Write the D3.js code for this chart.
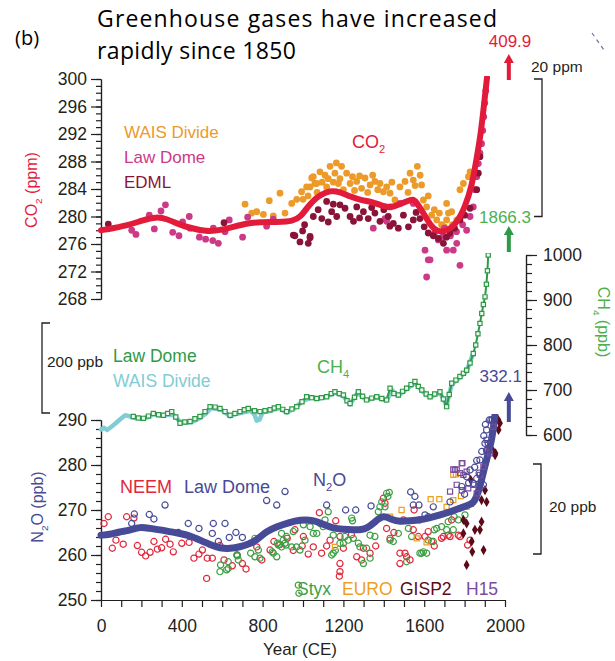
<!DOCTYPE html>
<html>
<head>
<meta charset="utf-8">
<script src="https://cdn.jsdelivr.net/npm/d3@7"></script>
<style>
  body { margin: 0; background: #fff; }
  svg { display: block; }
</style>
</head>
<body>
<svg id="chart"></svg>
<script>
'use strict';

// all series are [year CE, value]
const co2Smooth = [[0,278.0],[60,278.3],[144,278.8],[200,279.4],[275,280.0],[330,279.6],[375,279.0],[430,278.4],[523,277.8],[590,278.0],[655,278.5],[720,279.0],[787,279.2],[870,279.2],[952,279.3],[990,280.0],[1018,281.2],[1050,282.3],[1084,283.1],[1134,283.8],[1183,283.6],[1233,282.9],[1282,282.4],[1332,282.2],[1381,281.7],[1431,281.2],[1472,281.7],[1513,282.2],[1546,282.6],[1563,282.0],[1596,280.5],[1629,278.8],[1662,277.8],[1711,277.8],[1761,279.0],[1802,281.4],[1835,284.3],[1860,288.5],[1880,292.0],[1895,296.0],[1911,300.2]];
const co2Wais = [[713,281.8],[746,280.5],[771,280.7],[804,280.3],[833,282.3],[853,280.1],[886,283.4],[911,280.5],[944,281.9],[969,282.5],[993,283.6],[1000,282.5],[1018,284.3],[1025,283.0],[1035,284.3],[1043,285.6],[1051,285.8],[1059,284.8],[1068,284.8],[1070,283.5],[1084,286.5],[1095,285.0],[1109,286.0],[1117,284.3],[1125,285.5],[1134,287.3],[1150,285.0],[1158,286.3],[1165,287.8],[1175,284.8],[1183,285.5],[1191,287.3],[1200,283.9],[1216,286.3],[1233,284.8],[1245,285.8],[1255,283.8],[1266,285.1],[1280,285.9],[1290,284.1],[1307,285.6],[1320,283.5],[1332,284.6],[1345,286.0],[1356,285.1],[1370,283.9],[1381,284.8],[1398,283.6],[1414,284.3],[1431,283.4],[1440,285.0],[1455,282.4],[1480,284.3],[1505,285.1],[1520,283.5],[1530,286.3],[1546,285.3],[1555,284.5],[1566,287.3],[1580,286.0],[1587,284.6],[1596,282.4],[1612,281.4],[1620,283.0],[1637,280.2],[1650,281.0],[1662,279.5],[1675,280.5],[1686,278.8],[1700,278.5],[1711,279.5],[1711,281.9],[1720,280.5],[1736,280.7],[1740,278.8],[1761,279.5],[1777,283.9],[1794,284.8],[1819,285.8],[1827,286.5]];
const co2LawDome = [[152,278.0],[173,277.4],[239,280.2],[264,278.2],[297,280.8],[319,281.7],[355,277.7],[386,277.2],[404,279.2],[437,280.0],[441,278.3],[487,277.0],[518,276.7],[553,276.5],[556,278.3],[581,276.1],[614,277.8],[635,279.5],[701,277.0],[726,279.9],[820,278.6],[853,279.6],[1348,278.3],[1406,279.7],[1414,279.3],[1431,281.4],[1480,281.9],[1546,281.9],[1604,275.1],[1612,271.2],[1620,273.7],[1629,273.7],[1650,277.5],[1670,276.6],[1690,277.0],[1700,278.3],[1711,275.1],[1730,277.2],[1744,275.1],[1760,277.8],[1761,276.1],[1777,272.9],[1790,278.8],[1810,278.0],[1827,280.0],[1843,281.4],[1851,283.9],[1860,285.8],[1868,287.7],[1876,289.2],[1884,290.6],[1890,292.5],[1895,294.5],[1900,296.5],[1905,298.3]];
const co2Edml = [[36,278.9],[609,279.1],[952,277.3],[960,277.2],[985,276.3],[998,277.9],[1008,278.8],[1026,276.1],[1035,276.9],[1035,277.1],[1051,280.0],[1075,281.0],[1093,279.7],[1117,282.2],[1125,279.2],[1142,280.7],[1150,281.8],[1167,280.0],[1183,281.7],[1208,281.2],[1233,280.0],[1250,279.3],[1266,281.4],[1280,279.8],[1299,280.7],[1323,279.7],[1340,281.3],[1356,280.5],[1381,279.3],[1400,281.0],[1422,280.0],[1430,278.6],[1447,279.0],[1472,278.3],[1497,280.2],[1522,278.5],[1546,279.5],[1560,280.6],[1579,279.7],[1600,278.5],[1620,277.6],[1645,277.2],[1670,276.8],[1695,276.1],[1710,277.0],[1728,277.6],[1750,278.3],[1777,279.5],[1800,280.2],[1827,281.2],[1860,283.9],[1868,286.3],[1876,288.7]];

const ch4LawDome = [[160,641],[185,638],[210,637],[235,642],[259,648],[285,645],[309,644],[330,648],[350,652],[370,640],[391,626],[415,629],[441,630],[465,636],[490,641],[515,652],[540,663],[565,662],[589,659],[614,652],[639,644],[663,648],[688,652],[710,656],[729,659],[760,654],[787,652],[812,654],[837,656],[858,660],[878,663],[900,657],[919,652],[945,658],[969,663],[995,674],[1018,685],[1043,683],[1068,681],[1092,683],[1117,685],[1140,692],[1158,696],[1180,692],[1200,689],[1218,676],[1233,670],[1255,684],[1274,696],[1295,686],[1315,678],[1340,682],[1365,685],[1390,681],[1414,678],[1431,704],[1450,692],[1472,689],[1493,697],[1513,704],[1535,712],[1554,719],[1571,708],[1588,700],[1610,691],[1629,685],[1652,691],[1678,696],[1695,680],[1711,663],[1724,690],[1736,715],[1757,722],[1777,730],[1794,737],[1810,744],[1827,760],[1843,781],[1855,800],[1866,825],[1876,848],[1885,870],[1893,890],[1901,907],[1908,935],[1913,965],[1917,1000]];
const ch4Wais = [[0,612],[15,616],[30,611],[50,618],[70,625],[95,635],[120,644],[140,642],[165,638],[200,636],[235,640],[260,646],[300,643],[330,645],[360,644],[391,630],[420,627],[450,629],[490,638],[520,648],[545,660],[575,658],[600,655],[640,641],[665,646],[700,650],[740,654],[760,645],[771,632],[785,634],[800,650],[840,654],[880,660],[920,650],[960,660],[1000,676],[1040,683],[1080,681],[1120,686],[1160,694],[1200,686],[1233,668],[1270,694],[1315,677],[1365,684],[1414,676],[1440,700],[1472,687],[1513,702],[1554,716],[1588,698],[1629,684],[1678,694],[1711,666],[1736,712],[1777,728],[1810,742],[1840,778]];

const n2oSmooth = [[0,264.4],[40,264.5],[94,265.2],[140,265.4],[193,266.3],[240,265.9],[292,265.6],[340,265.2],[391,264.8],[440,264.3],[490,263.3],[540,262.3],[589,261.5],[640,261.4],[688,261.8],[730,262.4],[771,263.3],[820,265.3],[870,266.3],[930,267.2],[985,267.8],[1051,267.8],[1100,266.8],[1150,265.9],[1200,265.7],[1249,265.6],[1290,265.6],[1315,265.9],[1360,267.5],[1398,268.9],[1440,267.8],[1480,267.4],[1530,267.6],[1579,267.8],[1630,268.3],[1678,268.9],[1730,269.6],[1777,270.4],[1815,271.0],[1843,271.5],[1860,273.0],[1876,275.2],[1893,278.5],[1909,281.1],[1922,283.5],[1934,285.6],[1945,289.0],[1950,291.0]];
const n2oNeem = [[15,267.0],[36,268.5],[56,261.5],[74,263.3],[110,262.4],[127,268.5],[163,268.2],[180,262.1],[201,260.6],[221,259.8],[243,260.6],[262,263.0],[279,261.3],[300,261.6],[320,263.5],[342,262.4],[358,260.7],[400,262.6],[436,262.8],[460,259.3],[485,260.2],[502,261.1],[523,254.8],[526,259.3],[551,259.3],[589,262.1],[609,258.9],[650,257.6],[675,260.0],[700,258.1],[718,256.9],[771,261.8],[796,258.9],[837,261.1],[856,263.0],[886,262.3],[922,263.7],[952,261.0],[960,265.6],[996,262.0],[1002,264.1],[1026,260.2],[1051,261.8],[1081,269.4],[1092,260.4],[1117,262.0],[1134,263.3],[1162,267.6],[1180,255.3],[1183,264.1],[1183,258.1],[1183,256.3],[1200,261.5],[1240,264.5],[1266,259.6],[1290,258.9],[1299,261.5],[1332,260.4],[1360,262.0],[1398,272.6],[1406,271.5],[1414,265.9],[1431,263.7],[1450,265.0],[1480,260.4],[1480,258.1],[1497,267.8],[1505,260.4],[1513,259.6],[1530,258.9],[1546,265.6],[1550,270.0],[1571,264.1],[1576,267.8],[1604,264.1],[1620,265.2],[1637,263.0],[1650,262.0],[1686,263.7],[1695,264.1],[1719,264.4],[1728,264.1],[1736,267.8],[1769,264.4],[1777,264.1],[1815,262.2],[1827,263.3]];
const n2oLawDome = [[152,267.0],[165,269.1],[239,269.0],[262,268.0],[317,271.1],[383,265.0],[432,267.0],[485,265.9],[551,264.8],[556,267.0],[581,263.0],[614,267.0],[635,263.9],[668,265.0],[700,263.9],[820,272.1],[870,271.1],[911,274.1],[1117,271.1],[1211,270.0],[1261,270.0],[1337,270.9],[1533,274.0],[1546,271.1],[1554,273.0],[1574,271.1],[1604,268.9],[1620,268.5],[1645,270.7],[1728,271.8],[1786,275.2],[1800,273.5],[1810,277.4],[1820,276.0],[1827,278.9],[1843,275.9],[1850,279.5],[1860,277.0],[1860,281.0],[1872,278.2],[1876,281.1],[1885,283.0],[1893,275.6],[1895,286.5],[1901,284.8],[1903,289.0],[1909,283.3],[1909,287.8],[1917,284.8],[1922,290.0],[1930,290.0],[1938,290.0]];
const n2oStyx = [[589,256.3],[592,257.8],[622,256.7],[630,258.5],[630,257.0],[672,260.0],[675,259.8],[680,258.9],[741,260.4],[762,259.6],[762,263.7],[779,261.1],[787,259.3],[848,260.7],[853,260.4],[870,259.6],[873,262.6],[878,262.2],[894,261.8],[894,264.8],[902,263.3],[911,262.6],[916,262.2],[919,264.1],[944,261.8],[952,265.2],[968,261.8],[977,253.3],[980,251.5],[985,261.1],[1002,266.7],[1010,263.3],[1035,266.3],[1051,264.8],[1068,264.8],[1084,267.0],[1100,266.3],[1109,267.8],[1125,269.6],[1142,260.0],[1150,264.4],[1150,260.4],[1160,261.0],[1183,262.6],[1200,262.6],[1208,264.1],[1224,263.3],[1241,268.2],[1245,267.6],[1249,263.7],[1274,262.6],[1282,261.8],[1299,258.1],[1315,261.5],[1332,259.3],[1332,264.4],[1356,264.1],[1373,269.6],[1381,270.7],[1390,271.8],[1406,270.7],[1414,273.7],[1420,273.0],[1427,273.9],[1431,263.3],[1447,263.0],[1472,264.8],[1513,258.5],[1522,265.9],[1538,264.1],[1579,260.4],[1588,260.4],[1596,260.7],[1612,260.4],[1620,263.3],[1645,263.0],[1650,265.6],[1662,265.9],[1686,266.3],[1711,265.6],[1719,267.4],[1744,265.6],[1748,268.5],[1769,267.8],[1802,268.9]];
const n2oEuro = [[1158,261.8],[1431,268.5],[1488,270.0],[1563,263.7],[1612,262.8],[1632,272.4],[1675,272.4],[1711,270.7],[1744,272.2],[1744,277.8],[1757,277.9],[1782,273.1],[1810,270.7]];
const n2oGisp2 = [[1794,264.8],[1794,267.8],[1810,257.8],[1810,267.0],[1830,276.7],[1835,263.0],[1838,260.7],[1843,271.8],[1851,265.6],[1876,265.6],[1884,267.4],[1884,272.2],[1894,261.1],[1901,274.4],[1909,271.8],[1943,283.0],[1951,282.2],[1953,282.6],[1968,287.8],[1967,290.0],[1975,289.3]];
const n2oH15 = [[1728,274.1],[1744,279.0],[1752,278.9],[1761,279.0],[1761,275.6],[1777,278.2],[1786,280.4],[1786,274.4],[1789,280.4],[1794,277.8],[1810,278.5],[1818,274.8],[1843,275.6],[1860,273.7],[1876,277.8],[1893,279.6],[1909,283.0],[1909,285.6],[1926,282.6],[1942,288.5]];

// present-day values (off scale, shown with arrows)
const presentValues = ['409.9', '1866.3', '332.1'];
const presentYear = 2019;

const co2Ticks = [268, 272, 276, 280, 284, 288, 292, 296, 300];
const ch4Ticks = [600, 700, 800, 900, 1000];
const n2oTicks = [250, 260, 270, 280, 290];
const yearTicks = [0, 400, 800, 1200, 1600, 2000];

const font = 'Arial, "Liberation Sans", Helvetica, sans-serif';
const ink = '#231f20';
const col = {
  co2: '#e31b3b', wais: '#ec9a2a', lawCo2: '#cc3a87', edml: '#8a1437',
  ch4: '#2e9a48', ch4Label: '#4cb04f', waisCh4: '#82ccd5',
  n2o: '#474a96', neem: '#e0283c', styx: '#3d9f44', euro: '#ef9f1f',
  gisp2: '#5b0a16', h15: '#7a4b9e'
};

const svg = d3.select('#chart').attr('width', 615).attr('height', 661)
  .style('font-family', font);

const x = d3.scaleLinear().domain([0, 2000]).range([101, 505]);
const yCO2 = d3.scaleLinear().domain([268, 300]).range([299, 79]);
const yCH4 = d3.scaleLinear().domain([600, 1000]).range([435, 255]);
const yN2O = d3.scaleLinear().domain([250, 290]).range([600, 420]);

// clip regions so the records stop at the top of each axis
const defs = svg.append('defs');
const clip = function (id, y0, y1) {
  defs.append('clipPath').attr('id', id).append('rect')
    .attr('x', 90).attr('y', y0).attr('width', 430).attr('height', y1 - y0);
  return `url(#${id})`;
};
const co2Clip = clip('co2c', 76, 305);
const ch4Clip = clip('ch4c', 253, 440);
const n2oClip = clip('n2oc', 414, 603);

/* ---- axes ---- */
const axis = function (gen, tx, ty) {
  const g = svg.append('g').attr('transform', `translate(${tx},${ty})`).call(gen);
  g.attr('font-family', null).attr('font-size', 17.5);
  g.selectAll('path, line').attr('stroke', ink).attr('stroke-width', 1.2);
  g.selectAll('text').attr('fill', ink);
  return g;
};
const fmt = d3.format('d');
axis(d3.axisLeft(yCO2).tickValues(d3.range(268, 301)).tickSize(5).tickSizeOuter(0).tickFormat(''), 101, 0);
axis(d3.axisLeft(yCO2).tickValues(co2Ticks).tickSize(10).tickSizeOuter(0).tickPadding(4).tickFormat(fmt), 101, 0);
axis(d3.axisLeft(yN2O).tickValues(d3.range(250, 291, 2)).tickSize(5).tickSizeOuter(0).tickFormat(''), 101, 0);
axis(d3.axisLeft(yN2O).tickValues(n2oTicks).tickSize(10).tickSizeOuter(0).tickPadding(4).tickFormat(fmt), 101, 0);
axis(d3.axisRight(yCH4).tickValues(d3.range(600, 1001, 20)).tickSize(6).tickSizeOuter(0).tickFormat(''), 526, 0);
axis(d3.axisRight(yCH4).tickValues(ch4Ticks).tickSize(11).tickSizeOuter(0).tickPadding(6).tickFormat(fmt), 526, 0);
axis(d3.axisBottom(x).tickValues(d3.range(0, 2001, 100)).tickSize(7).tickSizeOuter(0)
  .tickFormat(d => yearTicks.includes(d) ? fmt(d) : '').tickPadding(13), 0, 600);

/* ---- marks ---- */
const marks = function (data, yS, clipUrl, type, size, fill, stroke) {
  svg.append('g').attr('clip-path', clipUrl)
    .selectAll('path').data(data).join('path')
    .attr('transform', d => `translate(${x(d[0])},${yS(d[1])})`)
    .attr('d', d3.symbol(type, size))
    .attr('fill', fill)
    .attr('stroke', stroke)
    .attr('stroke-width', 1.2);
};
const curve = function (data, yS, clipUrl, color, width, shape) {
  svg.append('path').datum(data).attr('clip-path', clipUrl)
    .attr('fill', 'none').attr('stroke', color).attr('stroke-width', width)
    .attr('stroke-linejoin', 'round').attr('stroke-linecap', 'round')
    .attr('d', d3.line().x(d => x(d[0])).y(d => yS(d[1])).curve(shape));
};

// CO2
marks(co2Wais, yCO2, co2Clip, d3.symbolCircle, 36, col.wais, 'none');
marks(co2LawDome, yCO2, co2Clip, d3.symbolCircle, 36, col.lawCo2, 'none');
marks(co2Edml, yCO2, co2Clip, d3.symbolCircle, 36, col.edml, 'none');
curve(co2Smooth, yCO2, co2Clip, col.co2, 6, d3.curveBasis);

// CH4
curve(ch4Wais, yCH4, ch4Clip, col.waisCh4, 4.5, d3.curveLinear);
curve(ch4LawDome, yCH4, ch4Clip, col.ch4, 2, d3.curveLinear);
marks(ch4LawDome, yCH4, ch4Clip, d3.symbolSquare, 18, '#eef8ee', col.ch4);

// N2O
marks(n2oNeem, yN2O, n2oClip, d3.symbolCircle, 30, 'none', col.neem);
marks(n2oStyx, yN2O, n2oClip, d3.symbolCircle, 30, 'none', col.styx);
marks(n2oEuro, yN2O, n2oClip, d3.symbolSquare, 26, 'none', col.euro);
marks(n2oGisp2, yN2O, n2oClip, d3.symbolDiamond, 30, col.gisp2, 'none');
curve(n2oSmooth, yN2O, n2oClip, col.n2o, 7, d3.curveBasis);
marks(n2oH15, yN2O, n2oClip, d3.symbolSquare, 26, 'none', col.h15);
marks(n2oLawDome, yN2O, n2oClip, d3.symbolCircle, 30, 'none', col.n2o);

/* ---- text ---- */
// parts alternate normal / subscript
const label = function (tx, ty, parts, color, size, opts = {}) {
  const t = svg.append('text')
    .attr('transform', `translate(${tx},${ty}) rotate(${opts.rotate || 0})`)
    .attr('text-anchor', opts.anchor || 'start')
    .attr('font-size', size).attr('fill', color)
    .style('font-family', opts.family || font);
  if (opts.width) t.attr('textLength', opts.width).attr('lengthAdjust', 'spacing');
  const sh = size * 0.3;
  parts.forEach((p, i) => {
    const s = t.append('tspan').text(p);
    if (i % 2 === 1) s.attr('font-size', size * 0.62).attr('dy', sh);
    else if (i > 0) s.attr('dy', -sh);
  });
  return t;
};

const titleFont = '"Open Sans", "Noto Sans", sans-serif';
label(97, 27, ['Greenhouse gases have increased'], '#000', 23, { family: titleFont, width: 400 });
label(97, 58.5, ['rapidly since 1850'], '#000', 23, { family: titleFont, width: 199 });
label(15, 45, ['(b)'], '#000', 20, { family: titleFont });

label(37, 190, ['CO', '2', ' (ppm)'], col.co2, 16, { rotate: -90, anchor: 'middle' });
label(598, 322, ['CH', '4', ' (ppb)'], col.ch4Label, 16, { rotate: 90, anchor: 'middle' });
label(43, 507, ['N', '2', 'O (ppb)'], col.n2o, 16, { rotate: -90, anchor: 'middle' });

label(124, 138, ['WAIS Divide'], col.wais, 17);
label(124, 163, ['Law Dome'], col.lawCo2, 17);
label(124, 188, ['EDML'], col.edml, 17);
label(352, 148, ['CO', '2'], col.co2, 18);

label(113, 362, ['Law Dome'], col.ch4, 17.5);
label(113, 387, ['WAIS Divide'], col.waisCh4, 17.5);
label(317, 373, ['CH', '4'], col.ch4Label, 18);

label(120, 493, ['NEEM'], col.neem, 18);
label(184, 493, ['Law Dome'], col.n2o, 18);
label(313, 486, ['N', '2', 'O'], col.n2o, 18);

label(297, 595, ['Styx'], col.styx, 17.5);
label(342, 595, ['EURO'], col.euro, 17.5);
label(400, 595, ['GISP2'], col.gisp2, 17.5);
label(466, 595, ['H15'], col.h15, 17.5);

label(300, 655, ['Year (CE)'], ink, 17, { anchor: 'middle' });

// off-scale present-day values with arrows
const arrow = function (yTop, yBot, color) {
  const cx = x(presentYear);
  svg.append('path').attr('fill', color)
    .attr('d', `M${cx - 2},${yBot} V${yTop + 9} H${cx - 5} L${cx},${yTop} L${cx + 5},${yTop + 9} H${cx + 2} V${yBot} Z`);
};
arrow(54, 80, col.co2);
arrow(226, 252, col.ch4);
arrow(392, 422, col.n2o);
label(510, 47, [presentValues[0]], col.co2, 17, { anchor: 'middle' });
label(531, 223, [presentValues[1]], col.ch4Label, 17, { anchor: 'end' });
label(522, 382, [presentValues[2]], col.n2o, 17, { anchor: 'end' });

// scale brackets: span equals the quoted amount on each axis
const bracket = function (bx, yTop, span, dir) {
  svg.append('path').attr('fill', 'none').attr('stroke', ink).attr('stroke-width', 1.3)
    .attr('d', `M${bx + dir * 8},${yTop} H${bx} V${yTop + span} H${bx + dir * 8}`);
};
bracket(542, yCO2(300), yCO2(280) - yCO2(300), -1);
label(531, 72, ['20 ppm'], ink, 15.5);
bracket(42, 323, yCH4(600) - yCH4(800), 1);
label(47, 367, ['200 ppb'], ink, 15.5);
bracket(541, 464, yN2O(260) - yN2O(280), -1);
label(549, 512, ['20 ppb'], ink, 15.5);

// dashed mark at the top right corner
svg.append('path').attr('fill', 'none').attr('stroke', '#6c6fa8').attr('stroke-width', 1.2)
  .attr('stroke-dasharray', '4,4').attr('d', 'M592,33 L604,50');
</script>
</body>
</html>
